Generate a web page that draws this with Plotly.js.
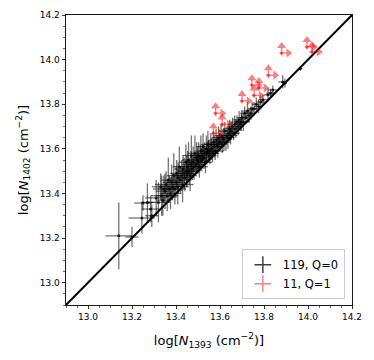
<!DOCTYPE html>
<html>
<head>
<meta charset="utf-8">
<script src="https://cdn.plot.ly/plotly-3.0.1.min.js"></script>
<style>html,body{margin:0;padding:0;background:#fff;}#chart{width:374px;height:360px;}</style>
</head>
<body>
<div id="chart"></div>
<script>
// Q=0 measurements (black): log N1393, log N1402 and their errors
const blackX = [
  13.14, 13.20,
  13.245, 13.25, 13.27, 13.285, 13.29,
  13.31, 13.32, 13.33, 13.335, 13.34, 13.345,
  13.35, 13.355, 13.36, 13.365, 13.37, 13.375, 13.38, 13.385, 13.39, 13.395,
  13.40, 13.403, 13.408, 13.41, 13.415, 13.42, 13.425, 13.43, 13.432, 13.437, 13.44, 13.445, 13.448,
  13.45, 13.453, 13.457, 13.46, 13.464, 13.468, 13.47, 13.474, 13.478, 13.482, 13.486, 13.49, 13.494, 13.498,
  13.50, 13.503, 13.506, 13.51, 13.513, 13.517, 13.52, 13.523, 13.527, 13.53, 13.534, 13.538, 13.541, 13.545, 13.548,
  13.55, 13.554, 13.558, 13.562, 13.566, 13.57, 13.574, 13.578, 13.582, 13.586, 13.59, 13.594, 13.598,
  13.60, 13.605, 13.61, 13.614, 13.618, 13.622, 13.627, 13.631, 13.636, 13.64, 13.644, 13.648,
  13.652, 13.657, 13.662, 13.667, 13.672, 13.677, 13.682, 13.687, 13.692, 13.697,
  13.70, 13.706, 13.712, 13.718, 13.725, 13.732, 13.74, 13.746,
  13.755, 13.765, 13.775, 13.785, 13.795,
  13.818, 13.83, 13.84,
  13.885, 13.895, 13.965
];
const blackY = [
  13.21, 13.205,
  13.29, 13.357, 13.36, 13.33, 13.30,
  13.38, 13.36, 13.43, 13.39, 13.37, 13.42,
  13.41, 13.44, 13.39, 13.46, 13.42, 13.40, 13.45, 13.43, 13.48, 13.42,
  13.45, 13.49, 13.43, 13.47, 13.52, 13.46, 13.48, 13.44, 13.51, 13.49, 13.47, 13.54, 13.50,
  13.49, 13.52, 13.55, 13.50, 13.48, 13.53, 13.57, 13.51, 13.54, 13.52, 13.58, 13.53, 13.56, 13.55,
  13.54, 13.57, 13.52, 13.56, 13.59, 13.55, 13.57, 13.61, 13.56, 13.58, 13.54, 13.60, 13.58, 13.62, 13.59,
  13.59, 13.57, 13.62, 13.60, 13.58, 13.63, 13.61, 13.59, 13.64, 13.62, 13.61, 13.65, 13.63,
  13.63, 13.66, 13.62, 13.65, 13.64, 13.68, 13.63, 13.66, 13.65, 13.67, 13.69, 13.66,
  13.68, 13.70, 13.67, 13.71, 13.69, 13.72, 13.70, 13.73, 13.71, 13.72,
  13.74, 13.72, 13.76, 13.74, 13.77, 13.75, 13.76, 13.78,
  13.78, 13.80, 13.79, 13.81, 13.82,
  13.842, 13.85, 13.864,
  13.90, 13.895, 13.96
];
const blackXerr = [
  0.06, 0.03,
  0.06, 0.04, 0.03, 0.04, 0.03,
  0.05, 0.05, 0.04, 0.05, 0.03, 0.05,
  0.04, 0.05, 0.05, 0.03, 0.05, 0.05, 0.04, 0.04, 0.03, 0.05,
  0.04, 0.03, 0.05, 0.04, 0.03, 0.05, 0.03, 0.05, 0.04, 0.04, 0.03, 0.03, 0.04,
  0.03, 0.04, 0.03, 0.05, 0.03, 0.04, 0.04, 0.03, 0.04, 0.03, 0.03, 0.04, 0.03, 0.03,
  0.03, 0.03, 0.04, 0.03, 0.03, 0.04, 0.03, 0.03, 0.03, 0.04, 0.03, 0.03, 0.03, 0.03, 0.04,
  0.03, 0.03, 0.03, 0.04, 0.03, 0.03, 0.03, 0.04, 0.03, 0.03, 0.03, 0.03, 0.03,
  0.03, 0.03, 0.02, 0.03, 0.03, 0.03, 0.02, 0.03, 0.03, 0.02, 0.03, 0.03,
  0.03, 0.02, 0.03, 0.03, 0.02, 0.03, 0.02, 0.03, 0.02, 0.03,
  0.02, 0.03, 0.02, 0.02, 0.03, 0.02, 0.02, 0.02,
  0.02, 0.02, 0.02, 0.02, 0.02,
  0.02, 0.02, 0.02,
  0.02, 0.01, 0.01
];
const blackYerr = [
  0.15, 0.045,
  0.07, 0.035, 0.085, 0.06, 0.05,
  0.08, 0.09, 0.06, 0.09, 0.07, 0.06,
  0.08, 0.06, 0.07, 0.10, 0.06, 0.07, 0.08, 0.06, 0.10, 0.07,
  0.07, 0.06, 0.08, 0.07, 0.09, 0.06, 0.07, 0.08, 0.06, 0.07, 0.06, 0.08, 0.07,
  0.06, 0.07, 0.08, 0.06, 0.07, 0.06, 0.09, 0.05, 0.07, 0.06, 0.08, 0.05, 0.07, 0.06,
  0.05, 0.06, 0.05, 0.06, 0.07, 0.05, 0.05, 0.06, 0.05, 0.05, 0.05, 0.06, 0.05, 0.06, 0.05,
  0.05, 0.04, 0.05, 0.05, 0.04, 0.05, 0.05, 0.04, 0.05, 0.04, 0.05, 0.05, 0.04,
  0.04, 0.05, 0.04, 0.04, 0.05, 0.04, 0.04, 0.04, 0.05, 0.04, 0.04, 0.04,
  0.04, 0.04, 0.03, 0.04, 0.04, 0.03, 0.04, 0.04, 0.03, 0.04,
  0.03, 0.04, 0.03, 0.03, 0.04, 0.03, 0.03, 0.03,
  0.03, 0.03, 0.03, 0.03, 0.02,
  0.03, 0.02, 0.02,
  0.03, 0.02, 0.01
];

// Q=1 measurements (red, lower limits)
const redX = [13.57, 13.58, 13.61, 13.70, 13.745, 13.755, 13.777, 13.82, 13.88, 13.995, 14.018];
const redY = [13.67, 13.76, 13.71, 13.815, 13.886, 13.84, 13.873, 13.93, 14.03, 14.057, 14.035];
const redXerr = [0.010, 0.010, 0.012, 0.010, 0.010, 0.012, 0.010, 0.010, 0.010, 0.010, 0.012];
const redYerr = [0.012, 0.015, 0.012, 0.012, 0.015, 0.012, 0.012, 0.012, 0.012, 0.012, 0.012];

// one-to-one line
const oneToOne = [12.9, 14.2];

const legendLabels = ['119, Q=0', '11, Q=1'];
const axisTitles = {
  x: 'log[<i>N</i><sub>1393</sub> (cm<sup>\u22122</sup>)]',
  y: 'log[<i>N</i><sub>1402</sub> (cm<sup>\u22122</sup>)]'
};

// styling constants for limit arrows (data units)
const shaft = 0.023;
const head = 0.031;

const blackBar = 'rgba(0,0,0,0.55)';
const redCol = 'rgba(255,0,0,0.5)';

const traces = [
  {
    x: oneToOne, y: oneToOne, mode: 'lines',
    line: {color: 'black', width: 2}, showlegend: false, hoverinfo: 'skip'
  },
  {
    x: blackX, y: blackY, mode: 'markers', showlegend: false,
    marker: {color: 'rgba(0,0,0,0.8)', size: 3},
    error_x: {type: 'data', array: blackXerr, color: blackBar, thickness: 1.3, width: 0},
    error_y: {type: 'data', array: blackYerr, color: blackBar, thickness: 1.3, width: 0}
  },
  {
    x: redX, y: redY, mode: 'markers', showlegend: false,
    marker: {color: redCol, size: 3},
    error_x: {type: 'data', symmetric: false, array: redX.map(() => shaft), arrayminus: redXerr, color: redCol, thickness: 1.5, width: 0},
    error_y: {type: 'data', symmetric: false, array: redY.map(() => shaft), arrayminus: redYerr, color: redCol, thickness: 1.5, width: 0}
  },
  {
    x: redX, y: redY.map(v => v + head), mode: 'markers', showlegend: false,
    marker: {symbol: 'triangle-up', size: 8, color: redCol, line: {width: 0}}
  },
  {
    x: redX.map(v => v + head), y: redY, mode: 'markers', showlegend: false,
    marker: {symbol: 'triangle-right', size: 8, color: redCol, line: {width: 0}}
  },
  {
    x: [null], y: [null], mode: 'markers', name: legendLabels[0],
    marker: {symbol: 'cross-thin-open', size: 12, color: 'rgba(0,0,0,0.75)', line: {width: 1.5, color: 'rgba(0,0,0,0.75)'}}
  },
  {
    x: [null], y: [null], mode: 'markers', name: legendLabels[1],
    marker: {symbol: 'cross-thin-open', size: 12, color: redCol, line: {width: 1.5, color: redCol}}
  }
];

const axisCommon = {
  range: [12.9, 14.2], tick0: 13.0, dtick: 0.2, tickformat: '.1f',
  ticks: 'outside', ticklen: 3.5, tickwidth: 0.8, tickcolor: 'black',
  showline: true, linecolor: 'black', linewidth: 0.9, mirror: true,
  showgrid: false, zeroline: false,
  tickfont: {size: 9, color: 'black'},
  minor: {tick0: 13.0, dtick: 0.05, ticks: 'outside', ticklen: 2, tickwidth: 0.6, tickcolor: 'black', showgrid: false}
};

const layout = {
  width: 374, height: 360,
  margin: {l: 66, r: 22, t: 15, b: 55},
  paper_bgcolor: 'white', plot_bgcolor: 'white',
  font: {family: 'DejaVu Sans, sans-serif', color: 'black'},
  xaxis: Object.assign({}, axisCommon, {title: {text: axisTitles.x, font: {size: 13}, standoff: 14}}),
  yaxis: Object.assign({}, axisCommon, {title: {text: axisTitles.y, font: {size: 13}, standoff: 8}}),
  showlegend: true,
  legend: {
    x: 0.975, y: 0.02, xanchor: 'right', yanchor: 'bottom',
    bgcolor: 'rgba(255,255,255,0.9)', bordercolor: '#cccccc', borderwidth: 1,
    font: {size: 11.5}, tracegroupgap: 0, itemwidth: 30
  }
};

Plotly.newPlot('chart', traces, layout, {displayModeBar: false, staticPlot: true});
</script>
</body>
</html>
